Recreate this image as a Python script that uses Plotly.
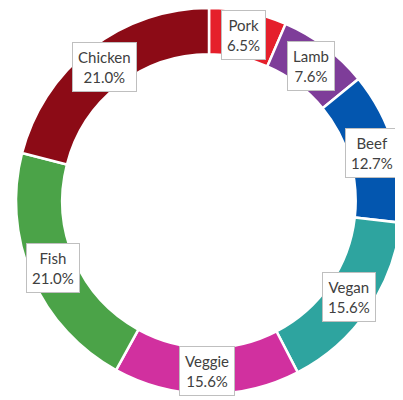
import numpy as np
import plotly.graph_objects as go

################################
# Data read off the reference donut

labels = ["Pork", "Lamb", "Beef", "Vegan", "Veggie", "Fish", "Chicken"]
shares = [6.5, 7.6, 12.7, 15.6, 15.6, 21.0, 21.0]
colors = ["#E51F2B", "#7E3D99", "#0356AF", "#2EA49F", "#D1309F", "#4BA348", "#8C0B16"]

W, H = 403, 400
# the page body adds an 8px offset, so the centre is set 8px up/left
cx, cy = 201, 193          # donut centre in figure pixels (from top-left)
r_out = 193
hole = 0.76
r_lab = r_out * (1 + hole) / 2

fig = go.Figure()
fig.add_trace(go.Pie(
    labels=labels,
    values=shares,
    sort=False,
    direction="clockwise",
    rotation=0,
    hole=hole,
    marker=dict(colors=colors, line=dict(color="white", width=2.5)),
    textinfo="none",
    hoverinfo="skip",
    showlegend=False,
    domain=dict(x=[(cx - r_out) / W, (cx + r_out) / W],
                y=[(H - cy - r_out) / H, 1.0]),
))

# boxed labels at the middle of each slice
total = sum(shares)
cum = np.cumsum([0] + shares[:-1])
annotations = []
for lab, val, start in zip(labels, shares, cum):
    ang = 2 * np.pi * (start + val / 2) / total
    px = cx + r_lab * np.sin(ang)
    py = cy - r_lab * np.cos(ang)
    annotations.append(dict(
        x=px / W, y=(H - py) / H, xref="paper", yref="paper",
        xanchor="center", yanchor="middle", showarrow=False,
        text=f"{lab}<br>{val:.1f}%",
        font=dict(family="Lato", size=15, color="#404040"),
        bgcolor="white", bordercolor="#bfbfbf", borderwidth=1, borderpad=5,
    ))

fig.update_layout(
    width=W, height=H,
    margin=dict(l=0, r=0, t=0, b=0),
    paper_bgcolor="white",
    plot_bgcolor="white",
    annotations=annotations,
)

fig.write_html("out.html")
